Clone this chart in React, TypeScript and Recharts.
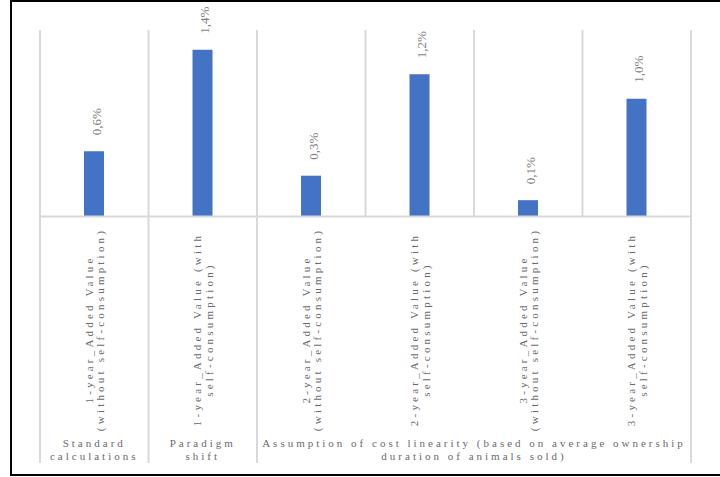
import React from "react";
import { BarChart, Bar, XAxis, YAxis, LabelList } from "recharts";

const catLine1 = [
  "1-year_Added Value",
  "1-year_Added Value (with",
  "2-year_Added Value",
  "2-year_Added Value (with",
  "3-year_Added Value",
  "3-year_Added Value (with",
];
const catLine2 = [
  "(without self-consumption)",
  "self-consumption)",
  "(without self-consumption)",
  "self-consumption)",
  "(without self-consumption)",
  "self-consumption)",
];
const values = [0.56, 1.43, 0.35, 1.22, 0.14, 1.01];
const groupLabels = [
  ["Standard", "calculations"],
  ["Paradigm", "shift"],
  ["Assumption of cost linearity (based on average ownership", "duration of animals sold)"],
];
const groupSpans = [1, 1, 4];

const data = values.map((v, i) => ({ key: "c" + i, value: v }));

const W = 720;
const H = 477;
const M_LEFT = 40;
const M_RIGHT = 29;
const M_TOP = 30;
const AXIS_H = 250;
const M_BOTTOM = 10.5;
const PLOT_W = W - M_LEFT - M_RIGHT;
const FONT = "Liberation Serif, DejaVu Serif, serif";
const GRID = "#d9d9d9";
const TEXT = "#6a6a6a";

const groupStarts: number[] = [];
{
  let s = 0;
  for (const g of groupSpans) {
    groupStarts.push(s);
    s += g;
  }
}

function CategoryTick(props: any) {
  const { x, y, index } = props;
  const n = data.length;
  const bw = PLOT_W / n;
  const left = x - bw / 2;
  const gi = groupStarts.indexOf(index);
  const isGroupStart = gi >= 0;
  const bottom = y + 246.5;
  const els: any[] = [];
  els.push(
    <line key="l" x1={left} x2={left} y1={M_TOP} y2={isGroupStart ? bottom : y} stroke={GRID} strokeWidth={2} />
  );
  if (index === n - 1) {
    els.push(
      <line key="r" x1={x + bw / 2} x2={x + bw / 2} y1={M_TOP} y2={bottom} stroke={GRID} strokeWidth={2} />
    );
  }
  els.push(
    <text
      key="t"
      transform={`translate(${x},${y + 113}) rotate(-90)`}
      textAnchor="middle"
      dominantBaseline="central"
      fill={TEXT}
      style={{ letterSpacing: 3.2, fontFamily: FONT, fontSize: 11 }}
    >
      <tspan x={0} y={-5.75}>{catLine1[index]}</tspan>
      <tspan x={0} y={5.75}>{catLine2[index]}</tspan>
    </text>
  );
  if (isGroupStart) {
    const cx = left + (groupSpans[gi] * bw) / 2;
    const lines = groupLabels[gi];
    els.push(
      <text
        key="g"
        textAnchor="middle"
        dominantBaseline="central"
        fill={TEXT}
        style={{ letterSpacing: 3, fontFamily: FONT, fontSize: 11 }}
      >
        <tspan x={cx} y={y + 226.5}>{lines[0]}</tspan>
        <tspan x={cx} y={y + 239.5}>{lines[1]}</tspan>
      </text>
    );
  }
  return <g>{els}</g>;
}

function ValueLabel(props: any) {
  const { x, y, width, value } = props;
  const txt = Number(value).toFixed(1).replace(".", ",") + "%";
  return (
    <text
      transform={`translate(${x + width / 2 + 2},${y - 16}) rotate(-90)`}
      textAnchor="start"
      dominantBaseline="central"
      fill="#7f7f7f"
      style={{ fontFamily: FONT, fontSize: 13 }}
    >
      {txt}
    </text>
  );
}

export default function App() {
  return (
    <div
      style={{
        position: "absolute",
        left: 0,
        top: 0,
        width: W,
        height: H,
        background: "#fff",
        fontFamily: FONT,
      }}
    >
      <div
        style={{
          position: "absolute",
          left: 10,
          top: 0,
          width: 710,
          height: 476,
          boxSizing: "border-box",
          borderLeft: "2px solid #000",
          borderTop: "2px solid #000",
          borderBottom: "2px solid #000",
        }}
      />
      <div style={{ position: "absolute", left: 0, top: 0 }}>
        <BarChart
          width={W}
          height={H}
          data={data}
          margin={{ top: M_TOP, right: M_RIGHT, left: M_LEFT, bottom: M_BOTTOM }}
        >
          <XAxis
            dataKey="key"
            height={AXIS_H}
            interval={0}
            tickLine={false}
            tickSize={0}
            tickMargin={0}
            axisLine={{ stroke: GRID, strokeWidth: 2 }}
            tick={(p: any) => <CategoryTick {...p} />}
          />
          <YAxis hide domain={[0, 1.6]} />
          <Bar dataKey="value" fill="#4472C4" barSize={20} isAnimationActive={false}>
            <LabelList dataKey="value" content={(p: any) => <ValueLabel {...p} />} />
          </Bar>
        </BarChart>
      </div>
    </div>
  );
}
